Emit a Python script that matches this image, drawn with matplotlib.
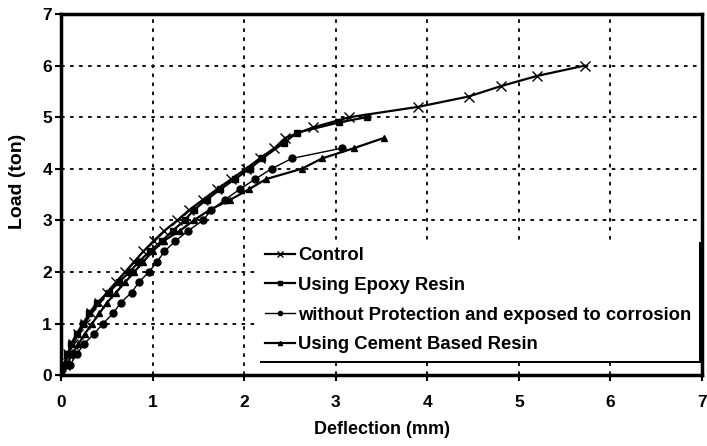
import matplotlib.pyplot as plt

plt.rcParams["font.family"] = "Liberation Sans"
plt.rcParams["font.weight"] = "bold"

# Control beam
control_x = [0, 0.04, 0.08, 0.13, 0.19, 0.26, 0.33, 0.41, 0.5, 0.6, 0.7, 0.8, 0.9, 1.01, 1.13,
             1.27, 1.4, 1.55, 1.7, 1.86, 2.02, 2.17, 2.33, 2.45, 2.75, 3.15, 3.9, 4.45, 4.8, 5.2, 5.72]
control_y = [0, 0.2, 0.4, 0.6, 0.8, 1.0, 1.2, 1.4, 1.6, 1.8, 2.0, 2.2, 2.4, 2.6, 2.8,
             3.0, 3.2, 3.4, 3.6, 3.8, 4.0, 4.2, 4.4, 4.6, 4.8, 5.0, 5.2, 5.4, 5.6, 5.8, 6.0]

# Epoxy resin
epoxy_x = [0, 0.03, 0.07, 0.11, 0.17, 0.24, 0.31, 0.39, 0.52, 0.63, 0.75, 0.85, 0.97, 1.1, 1.22,
           1.35, 1.45, 1.59, 1.74, 1.9, 2.06, 2.2, 2.43, 2.58, 3.04, 3.34]
epoxy_y = [0, 0.2, 0.4, 0.6, 0.8, 1.0, 1.2, 1.4, 1.6, 1.8, 2.0, 2.2, 2.4, 2.6, 2.8,
           3.0, 3.2, 3.4, 3.6, 3.8, 4.0, 4.2, 4.5, 4.7, 4.9, 5.0]

# Without protection, corroded
corr_x = [0, 0.1, 0.17, 0.25, 0.36, 0.46, 0.57, 0.65, 0.77, 0.85, 0.96, 1.05, 1.13, 1.25, 1.39,
          1.55, 1.64, 1.79, 1.95, 2.12, 2.3, 2.52, 3.07]
corr_y = [0, 0.2, 0.4, 0.6, 0.8, 1.0, 1.2, 1.4, 1.6, 1.8, 2.0, 2.2, 2.4, 2.6, 2.8,
          3.0, 3.2, 3.4, 3.6, 3.8, 4.0, 4.2, 4.4]

# Cement based resin
cement_x = [0, 0.06, 0.12, 0.19, 0.26, 0.34, 0.42, 0.5, 0.6, 0.7, 0.8, 0.9, 1.0, 1.12, 1.3,
            1.45, 1.62, 1.85, 2.05, 2.24, 2.63, 2.85, 3.2, 3.53]
cement_y = [0, 0.2, 0.4, 0.6, 0.8, 1.0, 1.2, 1.4, 1.6, 1.8, 2.0, 2.2, 2.4, 2.6, 2.8,
            3.0, 3.2, 3.4, 3.6, 3.8, 4.0, 4.2, 4.4, 4.6]

labels = ["Control", "Using Epoxy Resin", "without Protection and exposed to corrosion",
          "Using Cement Based Resin"]

fig = plt.figure(figsize=(7.07, 4.46), dpi=100)
ax = fig.add_axes([0.0863, 0.159, 0.9067, 0.8096])

ax.plot(control_x, control_y, color="black", lw=1.6, marker="x", ms=7, mew=1.0, label=labels[0])
ax.plot(epoxy_x, epoxy_y, color="black", lw=1.6, marker="s", ms=5, label=labels[1])
ax.plot(corr_x, corr_y, color="black", lw=1.0, marker="o", ms=5, label=labels[2])
ax.plot(cement_x, cement_y, color="black", lw=1.6, marker="^", ms=5, label=labels[3])

ax.set_xlim(0, 7)
ax.set_ylim(0, 7)
ax.set_xticks(range(8))
ax.set_yticks(range(8))
ax.grid(True, color="black", linestyle=(0, (2, 3)), linewidth=1.3)
for s in ax.spines.values():
    s.set_linewidth(2.5)
ax.tick_params(axis="both", direction="out", length=4, width=1.5, labelsize=12.5)
ax.tick_params(axis="x", pad=10)
ax.tick_params(axis="y", pad=2.5)

ax.set_xlabel("Deflection (mm)", fontsize=13, fontweight="bold", labelpad=8)
ax.set_ylabel("Load (ton)", fontsize=14, fontweight="bold")
ax.yaxis.set_label_coords(-0.054, 0.537)

leg = ax.legend(loc="lower right", bbox_to_anchor=(0.995, 0.04), borderaxespad=0,
                fontsize=13.3, frameon=True, fancybox=False, edgecolor="white", framealpha=1,
                handlelength=1.6, handletextpad=0.2, labelspacing=0.69, markerscale=0.6,
                borderpad=0.4, shadow={"color": "black", "alpha": 1})
leg.get_frame().set_linewidth(0)

fig.savefig("out.png", dpi=100)
